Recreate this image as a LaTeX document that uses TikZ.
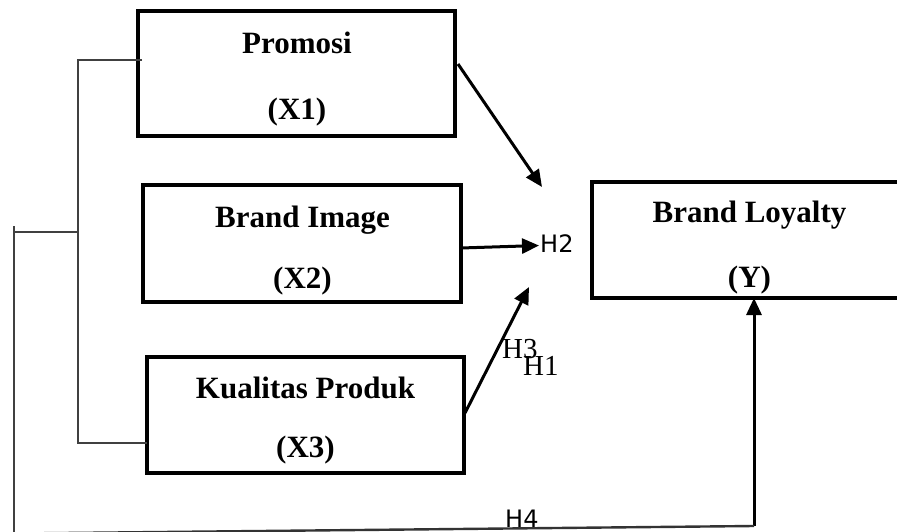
\documentclass[tikz,border=0pt]{standalone}
\usepackage{fontspec}
\setmainfont{Liberation Serif}
\newfontfamily\hsans{DejaVu Sans}
\usetikzlibrary{arrows.meta}
\tikzset{
  box/.style={draw=black, line width=3.4pt, inner sep=0pt, outer sep=0pt},
  title/.style={font=\fontsize{31}{31}\selectfont\bfseries, inner sep=0pt, anchor=base},
  hyp/.style={font=\hsans\fontsize{24}{24}\selectfont, inner sep=0pt, anchor=base west},
  hypserif/.style={font=\fontsize{29}{29}\selectfont, inner sep=0pt, anchor=base west},
  link/.style={line width=3pt, -{Triangle[length=17pt,width=15pt]}},
  bracket/.style={draw=black!75, line width=1.6pt},
  base line/.style={draw=black!80, line width=2.4pt},
}
\begin{document}
\begin{tikzpicture}[x=1pt,y=-1pt]
\useasboundingbox (0,0) rectangle (897,532);

% construct boxes
\node[box, minimum width=317pt, minimum height=125pt] (p)  at (296.5,73.5)  {};
\node[box, minimum width=318pt, minimum height=117pt] (bi) at (302,243.5)   {};
\node[box, minimum width=317pt, minimum height=116pt] (kp) at (305.5,415)   {};
\node[box, minimum width=315pt, minimum height=116pt] (bl) at (749.5,240)   {};

% box titles
\node[title] (pt)  at (297,54)    {Promosi};
\node[title] (pv)  at (297,120)   {(X1)};
\node[title] (bit) at (302.5,227) {Brand Image};
\node[title] (biv) at (302.5,288) {(X2)};
\node[title] (kpt) at (305.5,398) {Kualitas Produk};
\node[title] (kpv) at (305.5,457) {(X3)};
\node[title] (blt) at (749.5,222) {Brand Loyalty};
\node[title] (blv) at (749.5,287) {(Y)};

% arrow end points
\coordinate (s1) at (458,64);
\coordinate (e1) at (542,187);
\coordinate (s2) at (461,248);
\coordinate (e2) at (539,245.5);
\coordinate (s3) at (465,413);
\coordinate (e3) at (529,287);
\coordinate (s4) at (754,526);
\coordinate (e4) at (754,298);

\draw[link] (s1) -- (e1);
\draw[link] (s2) -- (e2);
\draw[link] (s3) -- (e3);
\draw[link] (s4) -- (e4);

% grouping brackets
\coordinate (b1) at (142,60);
\coordinate (b2) at (78,60);
\coordinate (b3) at (78,443);
\coordinate (b4) at (147,443);
\coordinate (b5) at (78,232);
\coordinate (b6) at (14,232);
\coordinate (b7) at (14,226);
\coordinate (b8) at (14,533.5);

\draw[bracket] (b1) -- (b2) -- (b3) -- (b4);
\draw[bracket] (b5) -- (b6);
\draw[bracket] (b7) -- (b8);
\draw[base line] (b8) -- (s4);

% hypothesis labels
\node[hyp] (h2) at (540,252) {H2};
\node[hypserif] (h3) at (502,358) {H3};
\node[hypserif] (h1) at (523,375) {H1};
\node[hyp] (h4) at (505,527) {H4};
\end{tikzpicture}
\end{document}
